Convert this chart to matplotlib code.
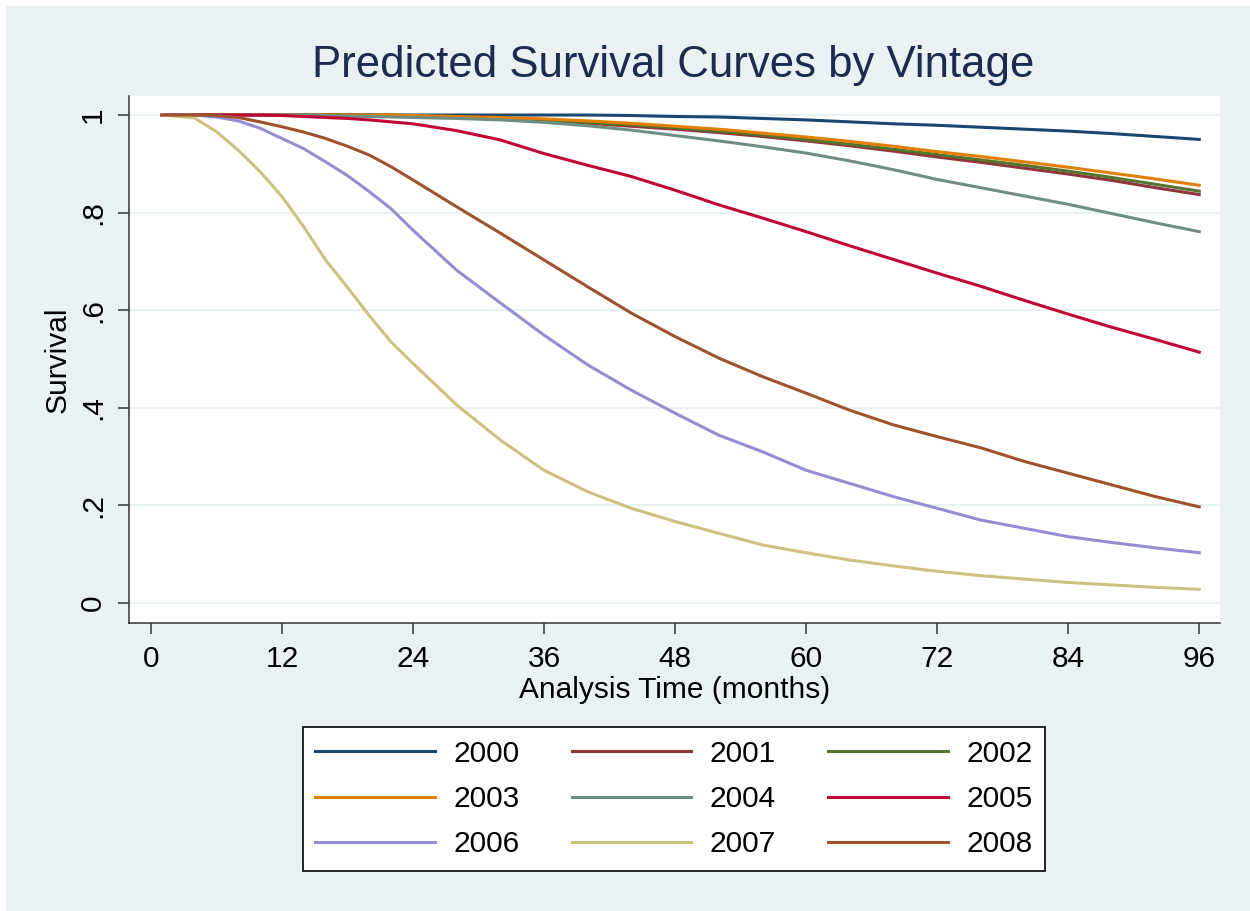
import matplotlib
matplotlib.use("Agg")
import matplotlib.pyplot as plt
from matplotlib.patches import Rectangle

months = [1, 4, 6, 8, 10, 12, 14, 16, 18, 20, 22, 24, 28, 32, 36, 40, 44, 48,
          52, 56, 60, 64, 68, 72, 76, 80, 84, 88, 92, 96]

s2000 = [1.0, 1.0, 1.0, 1.0, 1.0, 1.0, 1.0, 1.0, 1.0, 1.0, 1.0, 1.0, 1.0, 1.0, 1.0, 1.0,
         0.999, 0.997, 0.996, 0.993, 0.990, 0.986, 0.982, 0.979, 0.975, 0.971, 0.967,
         0.962, 0.956, 0.950]
s2001 = [1.0, 1.0, 1.0, 1.0, 1.0, 1.0, 1.0, 1.0, 1.0, 1.0, 0.999, 0.998, 0.995, 0.992,
         0.988, 0.983, 0.977, 0.971, 0.964, 0.956, 0.947, 0.937, 0.926, 0.914, 0.903,
         0.891, 0.879, 0.866, 0.851, 0.837]
s2002 = [1.0, 1.0, 1.0, 1.0, 1.0, 1.0, 1.0, 1.0, 1.0, 1.0, 1.0, 0.999, 0.996, 0.993,
         0.990, 0.985, 0.980, 0.974, 0.967, 0.959, 0.950, 0.940, 0.930, 0.919, 0.908,
         0.897, 0.885, 0.872, 0.858, 0.844]
s2003 = [1.0, 1.0, 1.0, 1.0, 1.0, 1.0, 1.0, 1.0, 1.0, 1.0, 1.0, 0.999, 0.997, 0.995,
         0.992, 0.988, 0.983, 0.977, 0.971, 0.963, 0.955, 0.946, 0.936, 0.925, 0.915,
         0.904, 0.893, 0.881, 0.869, 0.856]
s2004 = [1.0, 1.0, 1.0, 1.0, 1.0, 1.0, 1.0, 0.999, 0.998, 0.997, 0.996, 0.995, 0.993,
         0.990, 0.985, 0.978, 0.969, 0.958, 0.947, 0.935, 0.922, 0.906, 0.888, 0.868,
         0.851, 0.834, 0.817, 0.798, 0.779, 0.761]
s2005 = [1.0, 1.0, 1.0, 1.0, 1.0, 0.999, 0.997, 0.995, 0.993, 0.990, 0.986, 0.982, 0.968,
         0.949, 0.921, 0.897, 0.874, 0.846, 0.816, 0.789, 0.761, 0.732, 0.704, 0.676,
         0.649, 0.620, 0.592, 0.565, 0.540, 0.514]
s2006 = [1.0, 1.0, 0.996, 0.988, 0.973, 0.952, 0.931, 0.904, 0.876, 0.843, 0.808, 0.764,
         0.682, 0.615, 0.549, 0.488, 0.436, 0.389, 0.344, 0.310, 0.272, 0.245, 0.218,
         0.194, 0.170, 0.153, 0.136, 0.124, 0.113, 0.103]
s2007 = [1.0, 0.994, 0.966, 0.928, 0.884, 0.833, 0.771, 0.703, 0.647, 0.589, 0.535, 0.491,
         0.406, 0.334, 0.272, 0.228, 0.194, 0.167, 0.143, 0.119, 0.103, 0.088, 0.076,
         0.065, 0.056, 0.049, 0.042, 0.037, 0.032, 0.028]
s2008 = [1.0, 1.0, 0.999, 0.995, 0.986, 0.976, 0.965, 0.952, 0.936, 0.918, 0.894, 0.867,
         0.812, 0.758, 0.703, 0.648, 0.594, 0.546, 0.502, 0.464, 0.430, 0.395, 0.365,
         0.341, 0.318, 0.290, 0.266, 0.242, 0.218, 0.197]

vintages = ["2000", "2001", "2002", "2003", "2004", "2005", "2006", "2007", "2008"]
curves = [s2000, s2001, s2002, s2003, s2004, s2005, s2006, s2007, s2008]
colors = ["#1a476f", "#90353b", "#55752f", "#e37e00", "#6e8e84",
          "#c10534", "#938dd2", "#cac27e", "#a0522d"]

bg = "#e9f1f3"
plt.rcParams["font.family"] = ["Liberation Sans", "DejaVu Sans"]

fig = plt.figure(figsize=(12.5, 9.11), dpi=100, facecolor="white")
fig.patches.append(Rectangle((6 / 1250, 0), 1, 1 - 6 / 911, transform=fig.transFigure,
                             facecolor=bg, edgecolor="none", zorder=-10))

ax = fig.add_axes([129 / 1250, 1 - 623 / 911, (1220 - 129) / 1250, (623 - 96) / 911])
ax.set_facecolor("white")

lines = []
for label, ys, c in zip(vintages, curves, colors):
    ln, = ax.plot(months, ys, color=c, lw=2.2, label=label)
    lines.append(ln)

ax.set_xlim(-2.0, 97.9)
ax.set_ylim(-0.041, 1.039)
ax.set_xticks(range(0, 97, 12))
ax.set_yticks([0, 0.2, 0.4, 0.6, 0.8, 1.0])
ax.set_yticklabels(["0", ".2", ".4", ".6", ".8", "1"], rotation=90, va="center")
ax.tick_params(axis="both", labelsize=21.5, length=8, width=1.1, color="#333333", pad=8)
ax.grid(axis="y", color=bg, lw=1.6)
ax.set_axisbelow(True)

for side in ["top", "right"]:
    ax.spines[side].set_visible(False)
for side in ["left", "bottom"]:
    ax.spines[side].set_color("#333333")
    ax.spines[side].set_linewidth(1.1)

ax.set_xlabel("Analysis Time (months)", fontsize=21.5, labelpad=2)
ax.set_ylabel("Survival", fontsize=21.5, labelpad=5)
fig.text(0.5384, 1 - 65 / 911, "Predicted Survival Curves by Vintage", fontsize=31.5,
         color="#1c2b4f", ha="center", va="center")

# Stata fills legend row-wise; matplotlib fills column-wise
order = [0, 3, 6, 1, 4, 7, 2, 5, 8]
leg = fig.legend([lines[i] for i in order], [vintages[i] for i in order],
                 loc="center", bbox_to_anchor=(674 / 1250, 1 - 799 / 911), ncol=3,
                 fancybox=False, edgecolor="black", framealpha=1, fontsize=21.5,
                 handlelength=4.0, handletextpad=0.62, columnspacing=1.75,
                 labelspacing=0.58, borderpad=0.42)
leg.get_frame().set_linewidth(1.2)

fig.savefig("out.png", dpi=100, facecolor="white")
